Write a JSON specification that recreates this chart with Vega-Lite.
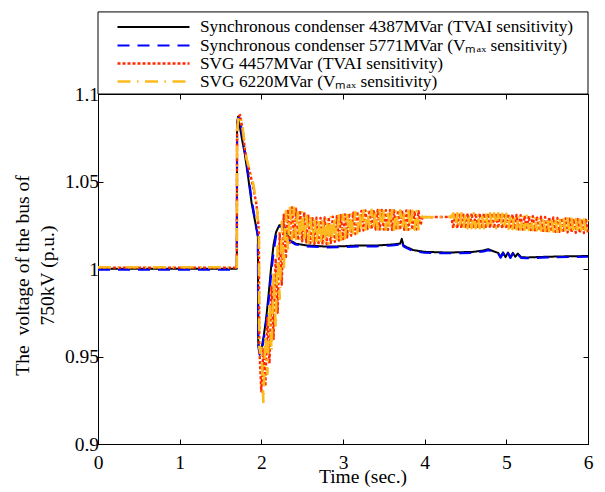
{
  "$schema": "https://vega.github.io/schema/vega-lite/v6.json",
  "width": 490,
  "height": 350,
  "autosize": {"type": "none"},
  "padding": {"left": 98, "top": 94, "right": 17, "bottom": 48},
  "background": "white",
  "config": {
    "font": "Liberation Serif",
    "view": {"stroke": "black", "strokeWidth": 1},
    "axis": {
      "labelFont": "Liberation Serif", "labelFontSize": 19.5, "labelColor": "black",
      "titleFont": "Liberation Serif", "titleFontSize": 19.5, "titleFontWeight": "normal", "titleColor": "black",
      "domainColor": "black", "tickColor": "black", "tickSize": -5, "grid": false,
      "labelFlush": false, "labelOverlap": false
    }
  },
  "datasets": {
    "sc": [
      {"t":0,"A":1.0002,"B":0.9996},
      {"t":1.7,"A":1.0002,"B":0.9996},
      {"t":1.703,"A":1.083,"B":1.079},
      {"t":1.715,"A":1.087,"B":1.086},
      {"t":1.735,"A":1.082,"B":1.0865},
      {"t":1.76,"A":1.075,"B":1.079},
      {"t":1.8,"A":1.065,"B":1.067},
      {"t":1.84,"A":1.052,"B":1.054},
      {"t":1.88,"A":1.038,"B":1.04},
      {"t":1.92,"A":1.028,"B":1.029},
      {"t":1.958,"A":1.019,"B":1.0185},
      {"t":1.962,"A":0.958,"B":0.956},
      {"t":1.98,"A":0.953,"B":0.951},
      {"t":2.0,"A":0.954,"B":0.952},
      {"t":2.03,"A":0.962,"B":0.96},
      {"t":2.06,"A":0.972,"B":0.97},
      {"t":2.09,"A":0.986,"B":0.982},
      {"t":2.12,"A":1.001,"B":0.997},
      {"t":2.15,"A":1.014,"B":1.01},
      {"t":2.18,"A":1.021,"B":1.019},
      {"t":2.22,"A":1.025,"B":1.024},
      {"t":2.27,"A":1.0255,"B":1.025},
      {"t":2.31,"A":1.021,"B":1.02},
      {"t":2.35,"A":1.0165,"B":1.016},
      {"t":2.42,"A":1.0145,"B":1.014},
      {"t":2.55,"A":1.0135,"B":1.013},
      {"t":2.8,"A":1.0128,"B":1.0123},
      {"t":3.0,"A":1.013,"B":1.0125},
      {"t":3.2,"A":1.0135,"B":1.013},
      {"t":3.4,"A":1.0134,"B":1.0129},
      {"t":3.6,"A":1.014,"B":1.0135},
      {"t":3.7,"A":1.0145,"B":1.014},
      {"t":3.72,"A":1.0172,"B":1.016},
      {"t":3.74,"A":1.0135,"B":1.013},
      {"t":3.78,"A":1.0125,"B":1.012},
      {"t":3.86,"A":1.0108,"B":1.0102},
      {"t":4.0,"A":1.0098,"B":1.0093},
      {"t":4.3,"A":1.0094,"B":1.009},
      {"t":4.6,"A":1.0098,"B":1.0093},
      {"t":4.72,"A":1.0106,"B":1.0101},
      {"t":4.78,"A":1.0113,"B":1.0108},
      {"t":4.85,"A":1.01,"B":1.0095},
      {"t":4.9,"A":1.0092,"B":1.0088},
      {"t":4.93,"A":1.007,"B":1.0065},
      {"t":4.96,"A":1.0095,"B":1.009},
      {"t":4.99,"A":1.0068,"B":1.0062},
      {"t":5.02,"A":1.0094,"B":1.009},
      {"t":5.05,"A":1.0068,"B":1.0063},
      {"t":5.08,"A":1.0092,"B":1.0088},
      {"t":5.11,"A":1.007,"B":1.0066},
      {"t":5.14,"A":1.0088,"B":1.0084},
      {"t":5.18,"A":1.0068,"B":1.0064},
      {"t":5.25,"A":1.0066,"B":1.0062},
      {"t":5.5,"A":1.007,"B":1.0066},
      {"t":5.8,"A":1.0073,"B":1.0069},
      {"t":6.0,"A":1.0074,"B":1.007}
    ],
    "svg": [
      {"t":0,"C":1.0008,"D":1.001},
      {"t":1.7,"C":1.0008,"D":1.001},
      {"t":1.703,"C":1.081,"D":1.079},
      {"t":1.72,"C":1.087,"D":1.086},
      {"t":1.74,"C":1.088,"D":1.0875},
      {"t":1.77,"C":1.08,"D":1.081},
      {"t":1.8,"C":1.068,"D":1.07},
      {"t":1.82,"C":1.062,"D":1.063},
      {"t":1.86,"C":1.055,"D":1.056},
      {"t":1.9,"C":1.047,"D":1.049},
      {"t":1.94,"C":1.037,"D":1.038},
      {"t":1.97,"C":1.022,"D":1.022},
      {"t":1.975,"C":0.956,"D":0.955},
      {"t":1.99,"C":0.94,"D":0.952},
      {"t":2.0,"C":0.93,"D":0.955},
      {"t":2.025,"C":0.954,"D":0.924},
      {"t":2.05,"C":0.933,"D":0.962},
      {"t":2.075,"C":0.972,"D":0.94},
      {"t":2.1,"C":0.946,"D":0.981},
      {"t":2.125,"C":0.99,"D":0.953},
      {"t":2.15,"C":0.96,"D":0.998},
      {"t":2.175,"C":1.006,"D":0.967},
      {"t":2.2,"C":0.975,"D":1.013},
      {"t":2.225,"C":1.021,"D":0.983},
      {"t":2.25,"C":0.991,"D":1.027},
      {"t":2.275,"C":1.031,"D":0.999},
      {"t":2.3,"C":1.006,"D":1.033},
      {"t":2.325,"C":1.034,"D":1.011},
      {"t":2.35,"C":1.015,"D":1.035},
      {"t":2.375,"C":1.0352,"D":1.017},
      {"t":2.4,"C":1.0175,"D":1.035},
      {"t":2.425,"C":1.0345,"D":1.017},
      {"t":2.45,"C":1.0165,"D":1.034},
      {"t":2.475,"C":1.0335,"D":1.016},
      {"t":2.5,"C":1.0158,"D":1.033},
      {"t":2.525,"C":1.0325,"D":1.0155},
      {"t":2.55,"C":1.0152,"D":1.032},
      {"t":2.575,"C":1.0312,"D":1.015},
      {"t":2.6,"C":1.0148,"D":1.03},
      {"t":2.625,"C":1.0298,"D":1.0145},
      {"t":2.65,"C":1.0142,"D":1.0295},
      {"t":2.675,"C":1.0293,"D":1.014},
      {"t":2.7,"C":1.0138,"D":1.0292},
      {"t":2.725,"C":1.0292,"D":1.0138},
      {"t":2.75,"C":1.0139,"D":1.0293},
      {"t":2.775,"C":1.0294,"D":1.0141},
      {"t":2.8,"C":1.0142,"D":1.0295},
      {"t":2.825,"C":1.0296,"D":1.0145},
      {"t":2.85,"C":1.0148,"D":1.0297},
      {"t":2.875,"C":1.0299,"D":1.0152},
      {"t":2.9,"C":1.0155,"D":1.03},
      {"t":2.925,"C":1.0302,"D":1.0159},
      {"t":2.95,"C":1.0162,"D":1.0305},
      {"t":2.975,"C":1.0308,"D":1.0166},
      {"t":3.0,"C":1.017,"D":1.031},
      {"t":3.025,"C":1.0312,"D":1.0175},
      {"t":3.05,"C":1.018,"D":1.0315},
      {"t":3.075,"C":1.0318,"D":1.0185},
      {"t":3.1,"C":1.019,"D":1.032},
      {"t":3.125,"C":1.0322,"D":1.0195},
      {"t":3.15,"C":1.02,"D":1.0325},
      {"t":3.175,"C":1.0328,"D":1.0205},
      {"t":3.2,"C":1.021,"D":1.033},
      {"t":3.225,"C":1.0332,"D":1.0215},
      {"t":3.25,"C":1.022,"D":1.0334},
      {"t":3.275,"C":1.0335,"D":1.0225},
      {"t":3.3,"C":1.0228,"D":1.0337},
      {"t":3.325,"C":1.0337,"D":1.0228},
      {"t":3.35,"C":1.0227,"D":1.0338},
      {"t":3.375,"C":1.0338,"D":1.0227},
      {"t":3.4,"C":1.0226,"D":1.0338},
      {"t":3.425,"C":1.0338,"D":1.0226},
      {"t":3.45,"C":1.0225,"D":1.0337},
      {"t":3.475,"C":1.0337,"D":1.0225},
      {"t":3.5,"C":1.0225,"D":1.0337},
      {"t":3.525,"C":1.0336,"D":1.0225},
      {"t":3.55,"C":1.0224,"D":1.0336},
      {"t":3.575,"C":1.0336,"D":1.0224},
      {"t":3.6,"C":1.0224,"D":1.0336},
      {"t":3.625,"C":1.0335,"D":1.0224},
      {"t":3.65,"C":1.0224,"D":1.0335},
      {"t":3.675,"C":1.0335,"D":1.0224},
      {"t":3.7,"C":1.0224,"D":1.0335},
      {"t":3.725,"C":1.0334,"D":1.0224},
      {"t":3.75,"C":1.0224,"D":1.0334},
      {"t":3.775,"C":1.0334,"D":1.0224},
      {"t":3.8,"C":1.0224,"D":1.0333},
      {"t":3.825,"C":1.0333,"D":1.0224},
      {"t":3.85,"C":1.0225,"D":1.0332},
      {"t":3.875,"C":1.0332,"D":1.0225},
      {"t":3.9,"C":1.0226,"D":1.0331},
      {"t":3.925,"C":1.033,"D":1.0227},
      {"t":3.95,"C":1.025,"D":1.031},
      {"t":3.975,"C":1.0298,"D":1.0296},
      {"t":4.05,"C":1.0296,"D":1.0297},
      {"t":4.15,"C":1.0297,"D":1.0296},
      {"t":4.25,"C":1.0297,"D":1.0298},
      {"t":4.325,"C":1.0299,"D":1.0298},
      {"t":4.35,"C":1.0233,"D":1.0318},
      {"t":4.375,"C":1.0318,"D":1.0233},
      {"t":4.4,"C":1.0233,"D":1.0318},
      {"t":4.425,"C":1.0318,"D":1.0233},
      {"t":4.45,"C":1.0233,"D":1.0318},
      {"t":4.475,"C":1.0318,"D":1.0233},
      {"t":4.5,"C":1.0233,"D":1.0318},
      {"t":4.525,"C":1.0318,"D":1.0233},
      {"t":4.55,"C":1.0233,"D":1.0318},
      {"t":4.575,"C":1.0318,"D":1.0233},
      {"t":4.6,"C":1.0233,"D":1.0318},
      {"t":4.625,"C":1.0318,"D":1.0233},
      {"t":4.65,"C":1.0233,"D":1.0318},
      {"t":4.675,"C":1.0318,"D":1.0233},
      {"t":4.7,"C":1.0233,"D":1.0318},
      {"t":4.725,"C":1.0318,"D":1.0233},
      {"t":4.75,"C":1.0233,"D":1.0318},
      {"t":4.775,"C":1.0318,"D":1.0233},
      {"t":4.8,"C":1.0233,"D":1.0318},
      {"t":4.825,"C":1.0318,"D":1.0233},
      {"t":4.85,"C":1.0233,"D":1.0318},
      {"t":4.875,"C":1.0318,"D":1.0233},
      {"t":4.9,"C":1.0233,"D":1.0318},
      {"t":4.925,"C":1.0317,"D":1.0232},
      {"t":4.95,"C":1.0231,"D":1.0316},
      {"t":4.975,"C":1.0316,"D":1.0231},
      {"t":5.0,"C":1.023,"D":1.0315},
      {"t":5.025,"C":1.0314,"D":1.0229},
      {"t":5.05,"C":1.0229,"D":1.0313},
      {"t":5.075,"C":1.0312,"D":1.0228},
      {"t":5.1,"C":1.0228,"D":1.031},
      {"t":5.125,"C":1.0309,"D":1.0227},
      {"t":5.15,"C":1.0226,"D":1.0308},
      {"t":5.175,"C":1.0307,"D":1.0226},
      {"t":5.2,"C":1.0225,"D":1.0305},
      {"t":5.225,"C":1.0304,"D":1.0224},
      {"t":5.25,"C":1.0224,"D":1.0304},
      {"t":5.275,"C":1.0303,"D":1.0223},
      {"t":5.3,"C":1.0223,"D":1.0303},
      {"t":5.325,"C":1.0302,"D":1.0222},
      {"t":5.35,"C":1.0221,"D":1.0301},
      {"t":5.375,"C":1.0301,"D":1.0221},
      {"t":5.4,"C":1.022,"D":1.03},
      {"t":5.425,"C":1.0299,"D":1.0219},
      {"t":5.45,"C":1.0218,"D":1.0298},
      {"t":5.475,"C":1.0297,"D":1.0217},
      {"t":5.5,"C":1.0217,"D":1.0296},
      {"t":5.525,"C":1.0296,"D":1.0216},
      {"t":5.55,"C":1.0215,"D":1.0295},
      {"t":5.575,"C":1.0294,"D":1.0214},
      {"t":5.6,"C":1.0213,"D":1.0293},
      {"t":5.625,"C":1.0292,"D":1.0212},
      {"t":5.65,"C":1.0212,"D":1.0292},
      {"t":5.675,"C":1.0291,"D":1.0211},
      {"t":5.7,"C":1.0211,"D":1.029},
      {"t":5.725,"C":1.0289,"D":1.021},
      {"t":5.75,"C":1.0209,"D":1.0289},
      {"t":5.775,"C":1.0288,"D":1.0209},
      {"t":5.8,"C":1.0208,"D":1.0287},
      {"t":5.825,"C":1.0286,"D":1.0207},
      {"t":5.85,"C":1.0207,"D":1.0285},
      {"t":5.875,"C":1.0284,"D":1.0206},
      {"t":5.9,"C":1.0206,"D":1.0283},
      {"t":5.925,"C":1.0283,"D":1.0205},
      {"t":5.95,"C":1.0205,"D":1.0282},
      {"t":5.975,"C":1.0281,"D":1.0204},
      {"t":6.0,"C":1.0204,"D":1.028}
    ]
  },
  "layer": [
    {
      "data": {"values": [{}]},
      "mark": {"type": "rect", "fill": "white", "stroke": "black", "strokeWidth": 1, "clip": false},
      "encoding": {
        "x": {"datum": 0, "type": "quantitative", "scale": {"domain": [0, 6], "nice": false, "zero": false},
              "axis": {"orient": "top", "values": [0,1,2,3,4,5,6], "labels": false, "title": null}},
        "x2": {"datum": 6},
        "y": {"datum": 1.1, "type": "quantitative", "scale": {"domain": [0.9, 1.1], "nice": false, "zero": false},
              "axis": {"orient": "right", "values": [0.9,0.95,1,1.05,1.1], "labels": false, "title": null}},
        "y2": {"datum": 1.1469}
      }
    },
    {
      "data": {"name": "sc"},
      "transform": [{"fold": ["A", "B"], "as": ["s", "v"]}],
      "mark": {"type": "line", "strokeJoin": "round"},
      "encoding": {
        "x": {"field": "t", "type": "quantitative", "scale": {"domain": [0, 6], "nice": false, "zero": false},
              "axis": {"orient": "bottom", "values": [0,1,2,3,4,5,6], "title": "Time (sec.)",
                       "labelFont": "Liberation Serif", "titleFont": "Liberation Serif",
                       "titleX": 264.5, "titleY": 38, "titleBaseline": "alphabetic", "labelPadding": 14, "labelDx": 3}},
        "y": {"field": "v", "type": "quantitative", "scale": {"domain": [0.9, 1.1], "nice": false, "zero": false},
              "axis": {"orient": "left", "values": [0.9,0.95,1,1.05,1.1], "format": "~g",
                       "labelFont": "Liberation Serif", "titleFont": "Liberation Serif",
                       "title": ["The\u00a0 voltage of the bus of", "750kV (p.u.)"],
                       "titleX": -75.5, "titleY": 181, "titleAngle": 270, "titleAlign": "center",
                       "titleBaseline": "middle", "titleLineHeight": 25, "labelPadding": 4.5, "labelDy": 4}},
        "color": {"field": "s", "type": "nominal",
                  "scale": {"domain": ["A","B","C","D"], "range": ["#000000","#0000FF","#FF2A00","#FDBA20"]},
                  "legend": {"orient": "none", "legendX": 46, "legendY": -76, "direction": "vertical", "title": null,
                             "symbolType": "M-4.5,0H4.5", "symbolSize": 256, "symbolStrokeWidth": 2,
                             "labelFont": "Liberation Serif", "labelFontSize": 17.3, "labelColor": "black",
                             "labelLimit": 0, "labelOffset": 37, "rowPadding": -0.5, "padding": 0,
                             "labelExpr": "datum.label == 'A' ? 'Synchronous condenser 4387MVar (TVAI sensitivity)' : datum.label == 'B' ? 'Synchronous condenser 5771MVar (Vₘₐₓ sensitivity)' : datum.label == 'C' ? 'SVG 4457MVar (TVAI sensitivity)' : 'SVG 6220MVar (Vₘₐₓ sensitivity)'"}},
        "strokeDash": {"field": "s", "type": "nominal",
                       "scale": {"domain": ["A","B","C","D"], "range": [[1,0],[12,8],[3,2],[13,6.5,1.5,6.5]]}},
        "strokeWidth": {"field": "s", "type": "ordinal",
                        "scale": {"domain": ["A","B","C","D"], "range": [2,2.6,1.6,2]}, "legend": null}
      }
    },
    {
      "data": {"name": "svg"},
      "transform": [{"fold": ["C", "D"], "as": ["s", "v"]}],
      "mark": {"type": "line", "strokeJoin": "round"},
      "encoding": {
        "x": {"field": "t", "type": "quantitative", "scale": {"domain": [0, 6], "nice": false, "zero": false}, "axis": null},
        "y": {"field": "v", "type": "quantitative", "scale": {"domain": [0.9, 1.1], "nice": false, "zero": false}, "axis": null},
        "color": {"field": "s", "type": "nominal",
                  "scale": {"domain": ["A","B","C","D"], "range": ["#000000","#0000FF","#FF2A00","#FDBA20"]}},
        "strokeDash": {"field": "s", "type": "nominal",
                       "scale": {"domain": ["A","B","C","D"], "range": [[1,0],[12,8],[3,2],[13,6.5,1.5,6.5]]}},
        "strokeWidth": {"field": "s", "type": "ordinal",
                        "scale": {"domain": ["A","B","C","D"], "range": [2,2.6,1.6,2]}, "legend": null}
      }
    }
  ],
  "resolve": {"axis": {"x": "independent", "y": "independent"}}
}
